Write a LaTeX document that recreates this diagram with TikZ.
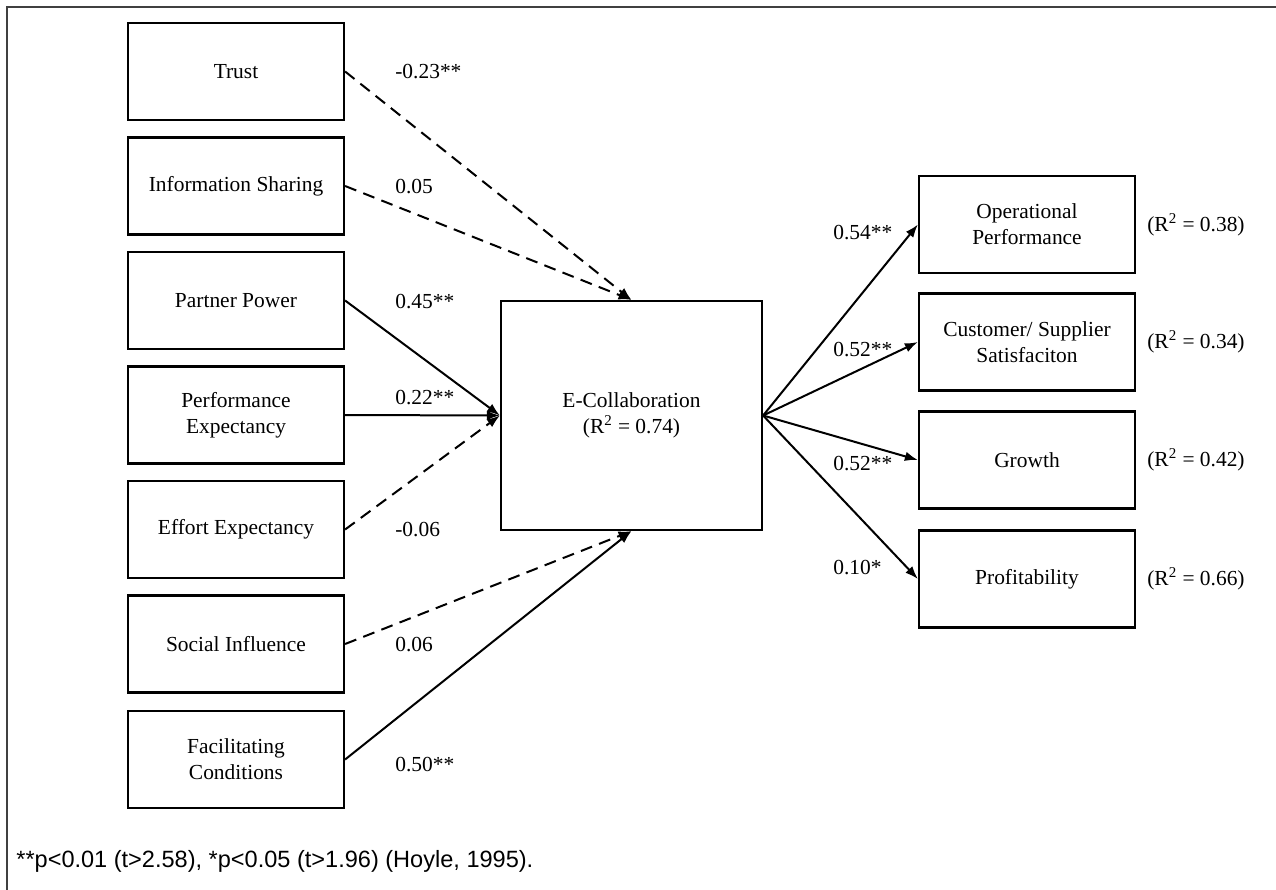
\documentclass[tikz,border=0pt]{standalone}
\usepackage{fontspec}
\setmainfont{Liberation Serif}
\setsansfont{Liberation Sans}
\usetikzlibrary{arrows.meta}
\tikzset{
	every node/.style={font=\fontsize{12.2}{14.7}\selectfont},
	construct/.style={draw, line width=0.045cm, minimum width=4.32cm, minimum height=1.94cm, align=center, inner sep=2pt},
	hub/.style={construct, minimum width=5.22cm, minimum height=4.58cm},
	solidpath/.style={line width=0.04cm, -{Latex[length=0.26cm, width=0.19cm]}},
	dashpath/.style={solidpath, dash pattern=on 0.24cm off 0.15cm},
	coef/.style={anchor=west, inner sep=0pt},
	rsq/.style={anchor=west, inner sep=0pt},
	frame/.style={line width=0.03cm, color=black!75},
}

\begin{document}
\begin{tikzpicture}[x=0.02cm, y=-0.02cm]
		%%%%% START %%%%%
		\useasboundingbox (0, 0) rectangle (1276, 890);
		\draw[frame] (1276, 7) -| (7, 890);
		
		\node[construct] (trust) at (236, 71.5) {Trust};
		\node[construct] (info) at (236, 186) {Information Sharing};
		\node[construct] (power) at (236, 300.5) {Partner Power};
		\node[construct] (perf) at (236, 415) {Performance\\Expectancy};
		\node[construct] (effort) at (236, 529.5) {Effort Expectancy};
		\node[construct] (social) at (236, 644) {Social Influence};
		\node[construct] (facil) at (236, 759.5) {Facilitating\\Conditions};
		
		\node[hub] (ecollab) at (631.5, 415.5) {E-Collaboration\\(R\textsuperscript{2} = 0.74)};
		
		\node[construct] (oper) at (1027, 224.5) {Operational\\Performance};
		\node[construct] (cust) at (1027, 342) {Customer/ Supplier\\Satisfaciton};
		\node[construct] (growth) at (1027, 460) {Growth};
		\node[construct] (profit) at (1027, 579) {Profitability};
		
		\node[rsq] (r-oper) at (1147, 224.5) {(R\textsuperscript{2} = 0.38)};
		\node[rsq] (r-cust) at (1147, 342) {(R\textsuperscript{2} = 0.34)};
		\node[rsq] (r-growth) at (1147, 460) {(R\textsuperscript{2} = 0.42)};
		\node[rsq] (r-profit) at (1147, 579) {(R\textsuperscript{2} = 0.66)};
		
		\draw[dashpath] (trust.east) -- (ecollab.north);
		\draw[dashpath] (info.east) -- (ecollab.north);
		\draw[solidpath] (power.east) -- (ecollab.west);
		\draw[solidpath] (perf.east) -- (ecollab.west);
		\draw[dashpath] (effort.east) -- (ecollab.west);
		\draw[dashpath] (social.east) -- (ecollab.south);
		\draw[solidpath] (facil.east) -- (ecollab.south);
		
		\draw[solidpath] (ecollab.east) -- (oper.west);
		\draw[solidpath] (ecollab.east) -- (cust.west);
		\draw[solidpath] (ecollab.east) -- (growth.west);
		\draw[solidpath] (ecollab.east) -- (profit.west);
		
		\node[coef] (c-trust) at (395, 72) {-0.23**};
		\node[coef] (c-info) at (395, 187) {0.05};
		\node[coef] (c-power) at (395, 302) {0.45**};
		\node[coef] (c-perf) at (395, 398) {0.22**};
		\node[coef] (c-effort) at (395, 530) {-0.06};
		\node[coef] (c-social) at (395, 645) {0.06};
		\node[coef] (c-facil) at (395, 765) {0.50**};
		
		\node[coef] (c-oper) at (833, 233) {0.54**};
		\node[coef] (c-cust) at (833, 350) {0.52**};
		\node[coef] (c-growth) at (833, 464) {0.52**};
		\node[coef] (c-profit) at (833, 568) {0.10*};
		
		\node[anchor=west, inner sep=0pt, font=\sffamily\fontsize{13.4}{15}\selectfont] (note) at (16, 861) {**p<0.01 (t>2.58), *p<0.05 (t>1.96) (Hoyle, 1995).};
		%%%%% END %%%%%
\end{tikzpicture}
\end{document}
